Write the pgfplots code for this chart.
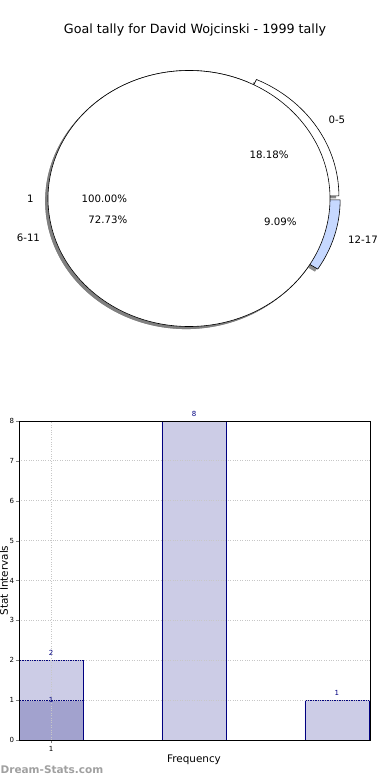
\documentclass[border=0pt]{standalone}
\usepackage{fontspec}
\setmainfont{DejaVu Sans}
\usepackage{pgfplots}
\pgfplotsset{compat=1.18}
\usepackage{pgfplotstable}
\definecolor{barlight}{RGB}{204,204,230}
\definecolor{bardark}{RGB}{162,162,206}
\definecolor{baredge}{RGB}{0,0,128}
\definecolor{sliceblue}{RGB}{198,216,255}
\definecolor{wmgray}{RGB}{160,160,160}

\pgfplotstableread{
x y
0 2
1 8
2 1
}\freqtable
\pgfplotstableread{
x y
0 1
}\darktable

% pie data (counts): 0-5, 6-11, 12-17
\def\cA{2}\def\cB{8}\def\cC{1}

\newcommand\slice[5]{%
  \path[#1] (axis cs:{#2},{#3}) -- (axis cs:{#2+cos(#4)},{#3+sin(#4)})
    arc[start angle=#4, end angle=#5, x radius=141pt, y radius=128pt] -- cycle;}

\begin{document}
\begin{tikzpicture}
\pgfmathsetmacro\tot{\cA+\cB+\cC}
\pgfmathsetmacro\aA{360*\cA/\tot}
\pgfmathsetmacro\aB{\aA+360*\cB/\tot}
\pgfmathsetmacro\mA{\aA/2}
\pgfmathsetmacro\mB{(\aA+\aB)/2}
\pgfmathsetmacro\mC{(\aB+360)/2}
\pgfmathsetmacro\exAx{0.075*cos(\mA)}
\pgfmathsetmacro\exAy{0.0375*sin(\mA)}
\pgfmathsetmacro\exCx{0.075*cos(\mC)}
\pgfmathsetmacro\exCy{0.0375*sin(\mC)}
\node[font=\fontsize{12.7}{15}\selectfont] at (195pt,-30pt) {Goal tally for David Wojcinski - 1999 tally};

% ---------- pie ----------
\begin{axis}[hide axis, x=141pt, y=128pt, xmin=-1.5, xmax=1.5, ymin=-1.5, ymax=1.5,
  clip=false, at={(-22.5pt,-390.5pt)}, anchor=south west]
\slice{fill=black!45}{\exAx-0.02}{\exAy-0.02}{0}{\aA}
\slice{fill=white, draw=black, line width=0.6pt}{\exAx}{\exAy}{0}{\aA}
\slice{fill=black!45}{-0.02}{-0.02}{\aA}{\aB}
\slice{fill=white, draw=black, line width=0.6pt}{0}{0}{\aA}{\aB}
\slice{fill=black!45}{\exCx-0.02}{\exCy-0.02}{\aB}{360}
\slice{fill=sliceblue, draw=black, line width=0.6pt}{\exCx}{\exCy}{\aB}{360}
% pie "1" (100%)
\fill[black!50] (axis cs:-0.02,-0.02) ellipse[x radius=141pt, y radius=128pt];
\filldraw[fill=white, draw=black, line width=0.6pt] (axis cs:0,0) ellipse[x radius=141pt, y radius=128pt];
% labels
\begin{scope}[font=\fontsize{10.2}{12}\selectfont]
\node[anchor=east, inner sep=0pt] at (axis cs:-1.1,0) {1};
\node at (axis cs:-0.6,0) {100.00\%};
\node[anchor=west, inner sep=0pt] at (axis cs:{\exAx+1.1*cos(\mA)},{\exAy+1.1*sin(\mA)}) {0-5};
\node at (axis cs:{\exAx+0.6*cos(\mA)},{\exAy+0.6*sin(\mA)}) {18.18\%};
\node[anchor=east, inner sep=0pt] at (axis cs:{1.1*cos(\mB)},{1.1*sin(\mB)}) {6-11};
\node at (axis cs:{0.6*cos(\mB)},{0.6*sin(\mB)}) {72.73\%};
\node[anchor=west, inner sep=0pt] at (axis cs:{\exCx+1.1*cos(\mC)},{\exCy+1.1*sin(\mC)}) {12-17};
\node at (axis cs:{\exCx+0.6*cos(\mC)},{\exCy+0.6*sin(\mC)}) {9.09\%};
\end{scope}
\end{axis}

% ---------- bars ----------
\begin{axis}[at={(19pt,-740pt)}, anchor=south west, scale only axis,
  width=351pt, height=319pt,
  xmin=-0.224, xmax=2.231, ymin=0, ymax=8,
  xtick={0}, xticklabels={1}, ytick={0,1,...,8},
  xtick pos=bottom, ytick pos=left, tick align=outside,
  major tick length=3pt,
  tick label style={font=\fontsize{7}{8}\selectfont},
  yticklabel style={xshift=1.5pt},
  /pgf/number format/assume math mode=true,
  grid=major, grid style={dash pattern=on 0.8pt off 1.6pt, line width=0.8pt, black!22},
  axis on top,
  xlabel={Frequency}, ylabel={Stat Intervals},
  label style={font=\fontsize{10.4}{12}\selectfont},
  xlabel style={at={(axis description cs:0.4986,-0.0627)}, anchor=center},
  ylabel style={at={(axis description cs:-0.0427,0.5)}, anchor=center},
  clip=false]
\addplot[ybar, bar width=64pt, bar shift=0pt, fill=barlight, draw=baredge, line width=0.6pt,
  nodes near coords, every node near coord/.append style={font=\fontsize{7}{8}\selectfont, text=baredge, yshift=1pt}]
  table[x=x, y=y] {\freqtable};
\addplot[ybar, bar width=64pt, bar shift=0pt, fill=bardark, draw=baredge, line width=0.6pt,
  nodes near coords, every node near coord/.append style={font=\fontsize{7}{8}\selectfont, text=baredge, anchor=center}]
  table[x=x, y=y] {\darktable};
\node[font=\bfseries\fontsize{10.5}{12}\selectfont, text=wmgray] at (axis description cs:0.094,-0.094) {Dream-Stats.com};
\end{axis}
\pgfresetboundingbox
\path[use as bounding box] (0pt,0pt) rectangle (390pt,-780pt);
\end{tikzpicture}
\end{document}
